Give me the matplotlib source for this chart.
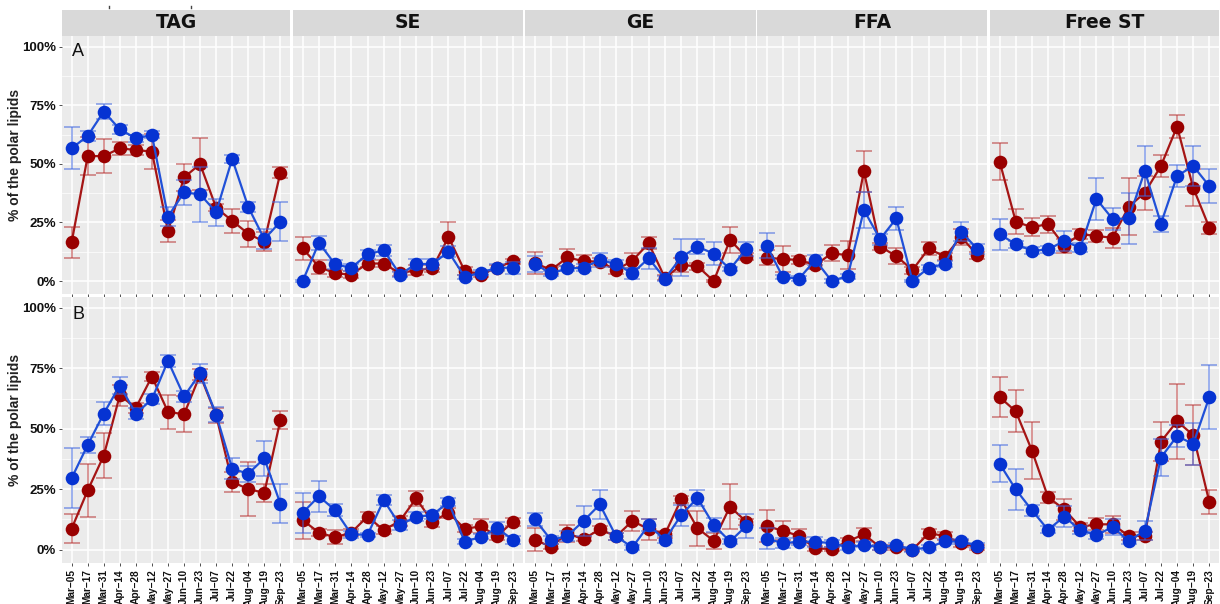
import matplotlib
matplotlib.use("Agg")
import numpy as np
import matplotlib.pyplot as plt
from matplotlib.patches import Rectangle
from matplotlib.lines import Line2D

# ---- data (% of the polar lipids) ----
dates = ["Mar\u221205", "Mar\u221217", "Mar\u221231", "Apr\u221214", "Apr\u221228",
         "May\u221212", "May\u221227", "Jun\u221210", "Jun\u221223", "Jul\u221207",
         "Jul\u221222", "Aug\u221204", "Aug\u221219", "Sep\u221223"]
classes = ["TAG", "SE", "GE", "FFA", "Free ST"]
row_tags = ["A", "B"]

# Row A
tag_a_red = [16.5, 53.3, 53.3, 56.6, 55.9, 55.2, 21.3, 44.2, 49.9, 31.3, 25.7, 20.2, 16.8, 46.2]
tag_a_red_err = [6.6, 8.0, 7.3, 2.8, 2.1, 7.6, 4.8, 5.8, 11.0, 1.6, 5.0, 5.5, 4.0, 2.3]
tag_a_blue = [56.6, 61.9, 72.3, 64.7, 60.9, 62.3, 27.5, 37.8, 37.0, 29.4, 52.1, 31.6, 17.9, 25.3]
tag_a_blue_err = [9.0, 2.3, 3.1, 1.8, 1.5, 1.5, 3.9, 5.3, 11.6, 5.7, 1.8, 2.3, 4.3, 8.3]

se_a_red = [13.9, 6.1, 3.3, 2.8, 7.5, 7.5, 3.3, 4.7, 5.4, 18.8, 4.3, 2.8, 5.7, 8.5]
se_a_red_err = [5.1, 3.0, 1.5, 1.5, 1.6, 1.5, 1.0, 2.0, 1.4, 6.5, 1.5, 1.0, 1.0, 1.0]
se_a_blue = [0.0, 16.4, 7.1, 5.7, 11.4, 13.2, 2.8, 7.3, 7.3, 12.5, 1.8, 3.6, 5.7, 5.7]
se_a_blue_err = [0.5, 3.0, 2.0, 1.5, 1.8, 2.4, 1.2, 2.0, 2.0, 2.3, 1.0, 1.0, 1.5, 2.5]

ge_a_red = [7.8, 4.7, 10.1, 8.5, 8.3, 4.7, 8.7, 16.1, 1.4, 6.8, 6.4, 0.0, 17.5, 10.4]
ge_a_red_err = [4.8, 1.5, 3.7, 2.7, 1.5, 1.5, 3.2, 2.6, 1.0, 3.0, 1.5, 0.5, 5.7, 1.5]
ge_a_blue = [7.3, 3.3, 5.4, 5.7, 9.0, 7.3, 3.3, 9.7, 1.1, 10.1, 14.7, 11.7, 5.1, 13.7]
ge_a_blue_err = [3.3, 1.2, 1.0, 1.5, 3.0, 1.5, 2.3, 4.4, 1.0, 8.0, 3.3, 5.0, 1.0, 3.0]

ffa_a_red = [10.0, 9.4, 9.0, 6.8, 11.8, 11.1, 46.9, 14.7, 10.7, 4.7, 13.9, 10.4, 18.9, 11.1]
ffa_a_red_err = [3.2, 5.7, 1.5, 1.5, 3.4, 6.0, 8.7, 1.6, 3.4, 1.5, 2.7, 1.5, 3.4, 1.5]
ffa_a_blue = [15.1, 1.7, 1.1, 9.0, 0.1, 2.1, 30.3, 17.9, 26.7, 0.1, 5.7, 7.3, 21.1, 13.7]
ffa_a_blue_err = [5.2, 1.0, 1.0, 2.0, 0.7, 1.0, 7.7, 2.3, 5.1, 0.5, 1.0, 1.3, 4.1, 2.3]

st_a_red = [50.9, 25.3, 23.0, 24.3, 15.1, 20.1, 19.2, 18.5, 31.7, 37.7, 49.1, 65.9, 39.8, 22.8]
st_a_red_err = [8.0, 5.3, 3.9, 3.6, 3.0, 2.0, 2.4, 4.3, 12.2, 7.3, 4.8, 5.1, 7.9, 2.6]
st_a_blue = [19.9, 15.8, 12.9, 13.5, 17.1, 14.2, 35.0, 26.5, 26.7, 46.9, 24.5, 44.8, 49.1, 40.5]
st_a_blue_err = [6.6, 1.5, 1.5, 1.5, 4.1, 1.9, 8.9, 4.6, 10.7, 10.6, 3.4, 4.5, 8.7, 7.3]

# Row B
tag_b_red = [8.7, 24.5, 38.9, 63.8, 58.7, 71.6, 57.0, 56.0, 72.3, 55.6, 28.0, 25.1, 23.5, 53.6]
tag_b_red_err = [6.0, 10.9, 9.4, 4.5, 2.1, 1.8, 7.0, 7.4, 2.3, 3.1, 4.2, 11.0, 3.7, 3.6]
tag_b_blue = [29.6, 43.3, 56.3, 67.9, 56.3, 62.2, 78.1, 63.4, 72.9, 55.9, 33.5, 31.4, 37.8, 19.0]
tag_b_blue_err = [12.5, 3.4, 4.8, 3.4, 2.3, 2.0, 2.4, 2.3, 3.9, 3.0, 4.4, 3.3, 7.2, 8.1]

se_b_red = [12.2, 7.1, 5.1, 7.1, 13.7, 8.1, 11.9, 21.2, 11.6, 15.3, 8.7, 9.6, 5.7, 11.6]
se_b_red_err = [7.6, 1.5, 2.9, 1.5, 2.0, 1.5, 2.0, 3.2, 2.4, 2.0, 1.5, 2.9, 1.5, 1.7]
se_b_blue = [15.3, 22.1, 16.3, 6.4, 6.1, 20.5, 10.2, 13.7, 14.3, 19.7, 3.3, 5.3, 8.9, 4.0]
se_b_blue_err = [8.2, 6.5, 2.5, 1.5, 1.0, 2.0, 2.0, 2.0, 1.5, 1.5, 1.0, 1.0, 2.4, 1.5]

ge_b_red = [4.1, 1.2, 6.7, 4.4, 8.5, 5.5, 11.9, 8.5, 6.4, 20.8, 8.9, 3.7, 17.8, 11.6]
ge_b_red_err = [4.7, 1.0, 3.6, 1.0, 1.5, 1.5, 4.1, 4.4, 1.5, 1.6, 7.2, 3.4, 9.4, 1.2]
ge_b_blue = [12.6, 4.0, 5.7, 11.9, 18.7, 5.5, 1.0, 10.1, 4.1, 14.3, 21.4, 10.2, 3.4, 9.8]
ge_b_blue_err = [2.7, 1.5, 2.0, 6.1, 5.8, 1.5, 1.0, 2.5, 1.5, 4.3, 3.4, 2.9, 1.0, 4.9]

ffa_b_red = [9.8, 7.8, 5.7, 0.5, 0.3, 3.4, 6.4, 1.0, 1.0, 0.0, 6.8, 5.7, 2.7, 1.0]
ffa_b_red_err = [6.6, 3.9, 3.0, 1.0, 1.0, 1.5, 2.7, 1.0, 1.0, 0.5, 1.8, 1.5, 1.5, 1.0]
ffa_b_blue = [4.6, 2.7, 3.3, 3.3, 2.7, 1.0, 2.0, 1.0, 1.9, 0.0, 1.0, 3.4, 3.4, 1.6]
ffa_b_blue_err = [4.2, 2.0, 1.5, 2.0, 1.5, 1.0, 1.0, 1.0, 1.0, 1.0, 1.0, 1.0, 1.0, 1.0]

st_b_red = [63.1, 57.2, 41.0, 21.7, 16.7, 9.4, 10.5, 10.5, 5.7, 5.7, 44.7, 53.1, 47.4, 19.7]
st_b_red_err = [8.3, 8.7, 11.8, 2.3, 4.4, 1.5, 2.5, 3.4, 1.5, 1.5, 8.2, 15.6, 12.5, 5.0]
st_b_blue = [35.5, 24.9, 16.3, 8.2, 13.7, 8.1, 6.0, 9.4, 3.7, 7.8, 38.1, 47.0, 43.7, 63.1]
st_b_blue_err = [7.7, 8.3, 2.2, 1.5, 4.4, 1.5, 1.5, 3.3, 1.5, 3.9, 7.7, 4.6, 8.7, 13.2]

panels = [
    [(tag_a_red, tag_a_red_err, tag_a_blue, tag_a_blue_err),
     (se_a_red, se_a_red_err, se_a_blue, se_a_blue_err),
     (ge_a_red, ge_a_red_err, ge_a_blue, ge_a_blue_err),
     (ffa_a_red, ffa_a_red_err, ffa_a_blue, ffa_a_blue_err),
     (st_a_red, st_a_red_err, st_a_blue, st_a_blue_err)],
    [(tag_b_red, tag_b_red_err, tag_b_blue, tag_b_blue_err),
     (se_b_red, se_b_red_err, se_b_blue, se_b_blue_err),
     (ge_b_red, ge_b_red_err, ge_b_blue, ge_b_blue_err),
     (ffa_b_red, ffa_b_red_err, ffa_b_blue, ffa_b_blue_err),
     (st_b_red, st_b_red_err, st_b_blue, st_b_blue_err)],
]

y_major = [0, 25, 50, 75, 100]
y_minor = [12.5, 37.5, 62.5, 87.5]

# ---- styling ----
RED_PT, RED_LN, RED_EB = "#990000", "#A51515", "#B83535"
BLUE_PT, BLUE_LN, BLUE_EB = "#0633D2", "#2050D8", "#4068E0"
PANEL_BG, STRIP_BG = "#EBEBEB", "#D9D9D9"

W, H = 1220, 604
fig = plt.figure(figsize=(W / 100, H / 100), dpi=100)
fig.patch.set_facecolor("white")

col_px = [(62, 290), (293, 523), (525, 756), (757, 987), (990, 1219)]
row_px = [(36, 294), (297, 563)]
strip_px = (10, 36)


def px_axes(x0, x1, y0, y1):
    return fig.add_axes([x0 / W, 1 - y1 / H, (x1 - x0) / W, (y1 - y0) / H])


x = np.arange(len(dates))

for r, (ry0, ry1) in enumerate(row_px):
    for c, (cx0, cx1) in enumerate(col_px):
        ax = px_axes(cx0, cx1, ry0, ry1)
        ax.set_facecolor(PANEL_BG)
        for s in ax.spines.values():
            s.set_visible(False)
        ax.set_xlim(-0.6, len(dates) - 0.4)
        ax.set_ylim(-5.5, 104.5)
        ax.set_yticks(y_major)
        ax.set_yticks(y_minor, minor=True)
        ax.set_xticks(x)
        ax.grid(which="major", color="white", lw=1.1, zorder=0)
        ax.grid(which="minor", axis="y", color="white", lw=0.5, zorder=0)
        ax.set_axisbelow(True)
        ax.tick_params(which="minor", length=0)
        ax.tick_params(which="major", length=2.5, width=0.6, color="#333333", pad=2)

        red, red_e, blue, blue_e = panels[r][c]
        for vals, errs, pt, ln, eb, z in [(red, red_e, RED_PT, RED_LN, RED_EB, 3),
                                          (blue, blue_e, BLUE_PT, BLUE_LN, BLUE_EB, 6)]:
            ax.errorbar(x, vals, yerr=errs, fmt="none", ecolor=eb, elinewidth=1.3,
                        capsize=5.5, capthick=1.3, alpha=0.55, zorder=z)
            ax.plot(x, vals, color=ln, lw=1.6, zorder=z + 1)
            ax.plot(x, vals, "o", ms=9.8, color=pt, mec=pt, mew=0, zorder=z + 2)

        if c == 0:
            ax.set_yticklabels([f"{v}%" for v in y_major], fontfamily="Liberation Sans",
                               fontweight="bold", fontsize=9.5, color="#111111")
            ax.text(0.044, 0.94 if r == 0 else 0.935, row_tags[r], transform=ax.transAxes,
                    fontfamily="Liberation Sans", fontsize=13, color="#111111",
                    ha="left", va="center")
        else:
            ax.set_yticklabels([])
            ax.tick_params(axis="y", length=0)

        if r == 1:
            ax.set_xticklabels(dates, rotation=90, fontfamily="Liberation Sans",
                               fontweight="bold", fontsize=7.3, color="#111111",
                               va="top", ha="center")
        else:
            ax.set_xticklabels([])

        if r == 0:
            sy0, sy1 = strip_px
            fig.add_artist(Rectangle((cx0 / W, 1 - sy1 / H), (cx1 - cx0) / W,
                                     (sy1 - sy0) / H, transform=fig.transFigure,
                                     facecolor=STRIP_BG, edgecolor="none"))
            fig.text((cx0 + cx1) / 2 / W, 1 - (sy0 + sy1) / 2 / H, classes[c],
                     ha="center", va="center", fontsize=13.5, fontweight="bold",
                     color="#111111", fontfamily="DejaVu Sans")

# y-axis titles for both rows
for (ry0, ry1) in row_px:
    fig.text(15 / W, 1 - ((ry0 + ry1) / 2 - 10) / H, "% of the polar lipids",
             rotation=90, ha="center", va="center", fontsize=10, fontweight="bold",
             fontfamily="Liberation Sans", color="#222222")

# small marks above the strips
for mx in (109, 191):
    fig.add_artist(Line2D([mx / W, mx / W], [1 - 6 / H, 1 - 8 / H],
                          transform=fig.transFigure, color="#444444", lw=1))

fig.savefig("out.png", dpi=100, facecolor="white")
